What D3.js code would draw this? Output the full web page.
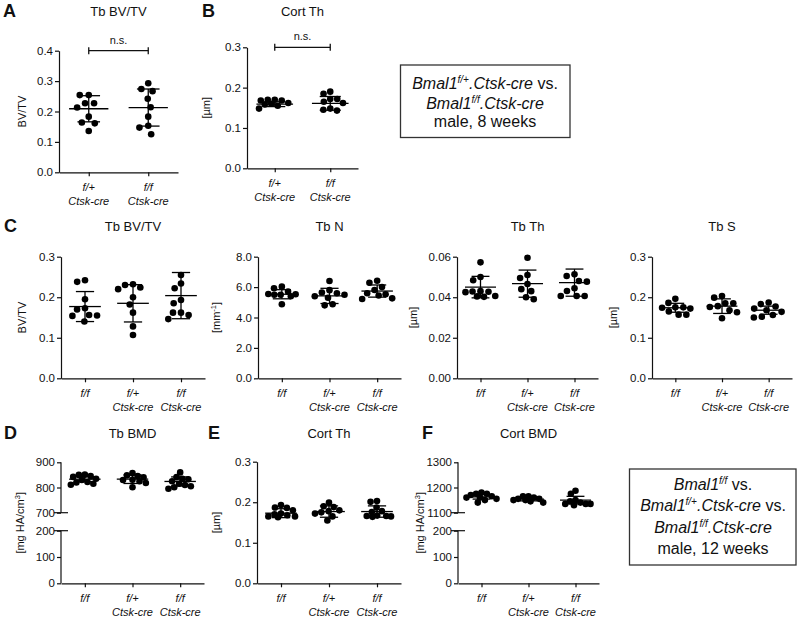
<!DOCTYPE html>
<html><head><meta charset="utf-8">
<script src="https://cdn.jsdelivr.net/npm/d3@7"></script>
<style>
body{margin:0;background:#fff;}
svg{display:block;font-family:"Liberation Sans",Arial,sans-serif;}
</style></head>
<body>
<script>
// ---------- DATA ----------
const catsTwo = ["f/+\nCtsk-cre", "f/f\nCtsk-cre"];
const catsThree = ["f/f", "f/+\nCtsk-cre", "f/f\nCtsk-cre"];

// A: Tb BV/TV (8 weeks)
const aTbBV = [
  [0.254, 0.254, 0.227, 0.227, 0.213, 0.183, 0.164, 0.161, 0.136],
  [0.293, 0.267, 0.274, 0.242, 0.214, 0.183, 0.153, 0.147, 0.125]
];
const aMean = [0.209, 0.213], aSD = [0.043, 0.061];
const aTicks = [0, 0.1, 0.2, 0.3, 0.4];

// B: Cort Th (8 weeks)
const bCortTh = [
  [0.168, 0.170, 0.170, 0.168, 0.160, 0.158, 0.155, 0.162, 0.148],
  [0.190, 0.185, 0.172, 0.172, 0.165, 0.162, 0.145, 0.143, 0.148]
];
const bMean = [0.159, 0.161], bSD = [0.006, 0.017];
const bTicks = [0, 0.1, 0.2, 0.3];

// C: 12 weeks
const cTbBV = [
  [0.238, 0.242, 0.195, 0.173, 0.170, 0.155, 0.156, 0.154, 0.140],
  [0.224, 0.220, 0.230, 0.232, 0.200, 0.182, 0.162, 0.128, 0.107],
  [0.255, 0.234, 0.222, 0.193, 0.185, 0.162, 0.162, 0.156, 0.146]
];
const cTbBVMean = [0.177, 0.185, 0.204], cTbBVSD = [0.037, 0.046, 0.057];
const cTbBVTicks = [0, 0.1, 0.2, 0.3];

const cTbN = [
  [5.92, 6.03, 5.53, 5.50, 5.70, 5.50, 5.40, 5.55, 4.87],
  [6.40, 5.64, 5.80, 5.40, 5.50, 5.30, 4.80, 4.87, 5.60],
  [6.42, 6.29, 5.81, 5.53, 5.60, 5.45, 5.22, 5.26, 6.00]
];
const cTbNMean = [5.53, 5.42, 5.74], cTbNSD = [0.30, 0.50, 0.40];
const cTbNTicks = [0, 2, 4, 6, 8];

const cTbTh = [
  [0.0572, 0.0500, 0.0484, 0.0428, 0.0427, 0.0425, 0.0430, 0.0406, 0.0402, 0.0404],
  [0.0595, 0.0495, 0.0510, 0.0465, 0.0430, 0.0440, 0.0390, 0.0400],
  [0.0513, 0.0505, 0.0480, 0.0477, 0.0444, 0.0431, 0.0406, 0.0406, 0.0406]
];
const cTbThMean = [0.0450, 0.0467, 0.0472], cTbThSD = [0.0053, 0.0067, 0.0067];
const cTbThTicks = [0, 0.02, 0.04, 0.06];

const cTbS = [
  [0.196, 0.186, 0.175, 0.172, 0.175, 0.174, 0.157, 0.157, 0.165],
  [0.199, 0.203, 0.185, 0.178, 0.176, 0.168, 0.163, 0.148, 0.185],
  [0.187, 0.183, 0.177, 0.172, 0.168, 0.164, 0.156, 0.150, 0.152]
];
const cTbSMean = [0.174, 0.178, 0.168], cTbSSD = [0.011, 0.018, 0.010];
const cTbSTicks = [0, 0.1, 0.2, 0.3];

// D: Tb BMD
const dTbBMD = [
  [851, 850, 845, 842, 835, 830, 822, 815, 811, 820],
  [848, 857, 845, 840, 831, 830, 825, 818, 801],
  [841, 860, 835, 833, 825, 815, 810, 801, 805, 795]
];
const dMean = [833, 833, 824], dSD = [10, 17, 18];
const dTicks = [0, 100, 200, 700, 800, 900];

// E: Cort Th
const eCortTh = [
  [0.193, 0.187, 0.186, 0.180, 0.172, 0.170, 0.168, 0.165, 0.163, 0.165],
  [0.199, 0.190, 0.188, 0.180, 0.178, 0.175, 0.172, 0.165, 0.155],
  [0.201, 0.203, 0.187, 0.178, 0.176, 0.167, 0.166, 0.165, 0.164, 0.166]
];
const eMean = [0.173, 0.177, 0.177], eSD = [0.011, 0.014, 0.014];
const eTicks = [0, 0.1, 0.2, 0.3];

// F: Cort BMD
const fCortBMD = [
  [1180, 1175, 1175, 1170, 1165, 1160, 1155, 1150, 1140, 1160],
  [1165, 1165, 1160, 1155, 1155, 1150, 1145, 1140, 1150],
  [1187, 1175, 1150, 1145, 1140, 1135, 1135, 1135, 1130]
];
const fMean = [1163, 1154, 1150], fSD = [9, 7, 15];
const fTicks = [0, 100, 200, 1100, 1200, 1300];

// ---------- DRAW ----------
const svg = d3.select("body").append("svg").attr("width", 800).attr("height", 619);
const R = 3.3;

function beeswarm(ys, D, maxX) {
  const order = ys.map((v, i) => i).sort((a, b) => ys[a] - ys[b]);
  const placed = [];
  const xs = new Array(ys.length).fill(0);
  order.forEach(i => {
    const yi = ys[i];
    const intervals = [];
    placed.forEach(p => {
      const dy = Math.abs(p.y - yi);
      if (dy < D) { const w = Math.sqrt(D * D - dy * dy); intervals.push([p.x - w, p.x + w]); }
    });
    const cands = [0];
    intervals.forEach(iv => { cands.push(iv[0], iv[1]); });
    cands.sort((a, b) => Math.abs(a) - Math.abs(b) || a - b);
    let best = null;
    for (const c of cands) {
      if (Math.abs(c) > maxX + 1e-6) continue;
      if (intervals.every(iv => c <= iv[0] + 1e-6 || c >= iv[1] - 1e-6)) { best = c; break; }
    }
    if (best === null) {
      let bestScore = -1;
      for (let c = -maxX; c <= maxX + 1e-6; c += 0.5) {
        const md = d3.min(placed, p => Math.hypot(p.x - c, p.y - yi));
        if (md > bestScore) { bestScore = md; best = c; }
      }
    }
    xs[i] = best; placed.push({x: best, y: yi});
  });
  return xs;
}

function panel(cfg) {
  const g = svg.append("g");
  const x = d3.scalePoint().domain(cfg.cats.map((c, i) => i)).range([cfg.x0, cfg.x1]).padding(0.5);
  const y = d3.scaleLinear().domain(cfg.yDomain).range(cfg.yRange);
  const step = x.step();

  // y axis
  const ya = d3.axisLeft(y).tickValues(cfg.ticks).tickFormat(d3.format(cfg.fmt)).tickSize(4).tickSizeOuter(0);
  const gy = g.append("g").attr("transform", `translate(${cfg.x0},0)`).call(ya);
  gy.selectAll("text").attr("font-size", 11.5).attr("fill", "#111").attr("font-family", "Liberation Sans, Arial, sans-serif").attr("x", -6);
  gy.selectAll("line").attr("stroke", "#111").attr("stroke-width", 1.2);
  if (cfg.brk) {
    gy.select(".domain").remove();
    const segs = [[cfg.yDomain[0], cfg.yDomain[1]], [cfg.yDomain[2], cfg.yDomain[3]]];
    segs.forEach(s => g.append("line").attr("x1", cfg.x0).attr("x2", cfg.x0)
      .attr("y1", y(s[0])).attr("y2", y(s[1])).attr("stroke", "#111").attr("stroke-width", 1.2));
    [cfg.yDomain[1], cfg.yDomain[2]].forEach(v => g.append("line").attr("x1", cfg.x0 - 7).attr("x2", cfg.x0 + 7)
      .attr("y1", y(v)).attr("y2", y(v)).attr("stroke", "#111").attr("stroke-width", 1.2));
  } else {
    gy.select(".domain").attr("stroke", "#111").attr("stroke-width", 1.2);
  }

  // x axis
  const y0 = y(cfg.yDomain[0]);
  const xa = d3.axisBottom(x).tickFormat("").tickSize(4).tickSizeOuter(0);
  const gx = g.append("g").attr("transform", `translate(0,${y0})`).call(xa);
  gx.select(".domain").attr("stroke", "#111").attr("stroke-width", 1.2);
  gx.selectAll("line").attr("stroke", "#111").attr("stroke-width", 1.2);
  cfg.cats.forEach((c, i) => {
    c.split("\n").forEach((line, j) => {
      g.append("text").attr("x", x(i)).attr("y", y0 + 19 + j * 13.5)
        .attr("text-anchor", "middle").attr("font-size", 11).attr("font-style", "italic").attr("fill", "#111").text(line);
    });
  });

  // dots
  cfg.data.forEach((vals, i) => {
    const ys = vals.map(v => y(v));
    const xs = beeswarm(ys, cfg.swarmD || 8, cfg.swarmMax || 15);
    g.append("g").selectAll("circle").data(vals).join("circle")
      .attr("cx", (d, k) => x(i) + xs[k]).attr("cy", d => y(d)).attr("r", R).attr("fill", "#000");
    const m = cfg.mean[i], s = cfg.sd[i];
    const mw = step * 0.33, cw = step * 0.19;
    const lines = [
      [x(i) - mw, y(m), x(i) + mw, y(m)],
      [x(i), y(m - s), x(i), y(m + s)],
      [x(i) - cw, y(m + s), x(i) + cw, y(m + s)],
      [x(i) - cw, y(m - s), x(i) + cw, y(m - s)]
    ];
    g.append("g").selectAll("line").data(lines).join("line")
      .attr("x1", d => d[0]).attr("y1", d => d[1]).attr("x2", d => d[2]).attr("y2", d => d[3])
      .attr("stroke", "#000").attr("stroke-width", 1.3);
  });

  // title
  g.append("text").attr("x", (cfg.x0 + cfg.x1) / 2 + (cfg.titleDx || 0)).attr("y", cfg.titleY)
    .attr("text-anchor", "middle").attr("font-size", 13).attr("fill", "#111").text(cfg.title);
  if (cfg.letter) g.append("text").attr("x", cfg.letterX).attr("y", cfg.titleY + 1.5)
    .attr("font-size", 18).attr("font-weight", "bold").attr("fill", "#111").text(cfg.letter);
  const yl = g.append("text").attr("transform", `translate(${cfg.ylabX},${(cfg.yRange[0] + cfg.yRange[cfg.yRange.length - 1]) / 2}) rotate(-90)`)
    .attr("text-anchor", "middle").attr("dy", "0.35em").attr("font-size", 11).attr("fill", "#111");
  cfg.ylab.forEach(part => {
    const t = yl.append("tspan").text(part.t);
    if (part.sup) t.attr("font-size", 7.5).attr("dy", -4);
    if (part.down) t.attr("dy", 4);
  });

  if (cfg.ns) {
    const by = y(cfg.yDomain[cfg.yDomain.length - 1]);
    g.append("line").attr("x1", x(0)).attr("x2", x(1)).attr("y1", by).attr("y2", by).attr("stroke", "#111").attr("stroke-width", 1.3);
    [x(0), x(1)].forEach(xx => g.append("line").attr("x1", xx).attr("x2", xx).attr("y1", by - 3.5).attr("y2", by + 3.5).attr("stroke", "#111").attr("stroke-width", 1.3));
    g.append("text").attr("x", (x(0) + x(1)) / 2).attr("y", by - 7).attr("text-anchor", "middle").attr("font-size", 11).attr("fill", "#111").text("n.s.");
  }
}

const um = [{t: "[µm]"}];

panel({cats: catsTwo, data: aTbBV, mean: aMean, sd: aSD, ticks: aTicks, fmt: ".1f",
  x0: 59, x1: 178, yDomain: [0, 0.4], yRange: [172.3, 50.7], title: "Tb BV/TV", titleY: 15.5,
  letter: "A", letterX: 3, ylabX: 22, ylab: [{t: "BV/TV"}], ns: true, swarmD: 9, swarmMax: 16});
panel({cats: catsTwo, data: bCortTh, mean: bMean, sd: bSD, ticks: bTicks, fmt: ".1f",
  x0: 247, x1: 358, yDomain: [0, 0.3], yRange: [168.3, 47.3], title: "Cort Th", titleY: 15.5,
  letter: "B", letterX: 202, ylabX: 206, ylab: um, ns: true, swarmD: 7, swarmMax: 16});

panel({cats: catsThree, data: cTbBV, mean: cTbBVMean, sd: cTbBVSD, ticks: cTbBVTicks, fmt: ".1f",
  x0: 61, x1: 205, yDomain: [0, 0.3], yRange: [378.3, 256.7], title: "Tb BV/TV", titleY: 230.5,
  letter: "C", letterX: 4, ylabX: 22, ylab: [{t: "BV/TV"}]});
panel({cats: catsThree, data: cTbN, mean: cTbNMean, sd: cTbNSD, ticks: cTbNTicks, fmt: ".1f",
  x0: 258, x1: 401, yDomain: [0, 8], yRange: [378.3, 256.7], title: "Tb N", titleY: 230.5,
  ylabX: 216, ylab: [{t: "[mm"}, {t: "-1", sup: true}, {t: "]", down: true}]});
panel({cats: catsThree, data: cTbTh, mean: cTbThMean, sd: cTbThSD, ticks: cTbThTicks, fmt: ".2f",
  x0: 457, x1: 598, yDomain: [0, 0.06], yRange: [378.3, 256.7], title: "Tb Th", titleY: 230.5,
  ylabX: 413, ylab: um});
panel({cats: catsThree, data: cTbS, mean: cTbSMean, sd: cTbSSD, ticks: cTbSTicks, fmt: ".1f",
  x0: 652, x1: 792, yDomain: [0, 0.3], yRange: [378.3, 256.7], title: "Tb S", titleY: 230.5,
  ylabX: 613, ylab: um});

panel({cats: catsThree, data: dTbBMD, mean: dMean, sd: dSD, ticks: dTicks, fmt: "d", brk: true,
  x0: 61, x1: 204, yDomain: [0, 200, 700, 900], yRange: [583.3, 530.7, 512.7, 462.3], title: "Tb BMD", titleY: 437.5,
  letter: "D", letterX: 4, ylabX: 20, ylab: [{t: "[mg HA/cm"}, {t: "3", sup: true}, {t: "]", down: true}],
  swarmD: 6, swarmMax: 14});
panel({cats: catsThree, data: eCortTh, mean: eMean, sd: eSD, ticks: eTicks, fmt: ".1f",
  x0: 257, x1: 401, yDomain: [0, 0.3], yRange: [583.3, 461.7], title: "Cort Th", titleY: 437.5,
  letter: "E", letterX: 208, ylabX: 216, ylab: um, swarmD: 6.5, swarmMax: 14});
panel({cats: catsThree, data: fCortBMD, mean: fMean, sd: fSD, ticks: fTicks, fmt: "d", brk: true,
  x0: 458, x1: 599, yDomain: [0, 200, 1100, 1300], yRange: [583.3, 530.7, 512.7, 462.3], title: "Cort BMD", titleY: 437.5,
  letter: "F", letterX: 422, ylabX: 420, ylab: [{t: "[mg HA/cm"}, {t: "3", sup: true}, {t: "]", down: true}],
  swarmD: 5.5, swarmMax: 15});

// ---------- LEGEND BOXES ----------
function box(x, y, w, h, lines, cx, ys) {
  svg.append("rect").attr("x", x).attr("y", y).attr("width", w).attr("height", h)
    .attr("fill", "#fff").attr("stroke", "#333").attr("stroke-width", 1.3);
  lines.forEach((parts, i) => {
    const t = svg.append("text").attr("x", cx).attr("y", ys[i]).attr("text-anchor", "middle")
      .attr("font-size", 16).attr("fill", "#111");
    parts.forEach(p => {
      const s = t.append("tspan").text(p.t);
      if (p.i) s.attr("font-style", "italic");
      if (p.sup) s.attr("font-size", 10).attr("dy", -6);
      if (p.down) s.attr("dy", 6);
    });
  });
}
box(400.5, 65, 169.5, 72.5, [
  [{t: "Bmal1", i: 1}, {t: "f/+", i: 1, sup: 1}, {t: ".Ctsk-cre", i: 1, down: 1}, {t: " vs."}],
  [{t: "Bmal1", i: 1}, {t: "f/f", i: 1, sup: 1}, {t: ".Ctsk-cre", i: 1, down: 1}],
  [{t: "male, 8 weeks"}]
], 485, [89, 109, 127]);
box(629.5, 469, 166.5, 96, [
  [{t: "Bmal1", i: 1}, {t: "f/f", i: 1, sup: 1}, {t: " vs.", down: 1}],
  [{t: "Bmal1", i: 1}, {t: "f/+", i: 1, sup: 1}, {t: ".Ctsk-cre", i: 1, down: 1}, {t: " vs."}],
  [{t: "Bmal1", i: 1}, {t: "f/f", i: 1, sup: 1}, {t: ".Ctsk-cre", i: 1, down: 1}],
  [{t: "male, 12 weeks"}]
], 713, [490, 511, 533, 554]);
</script>
</body></html>
